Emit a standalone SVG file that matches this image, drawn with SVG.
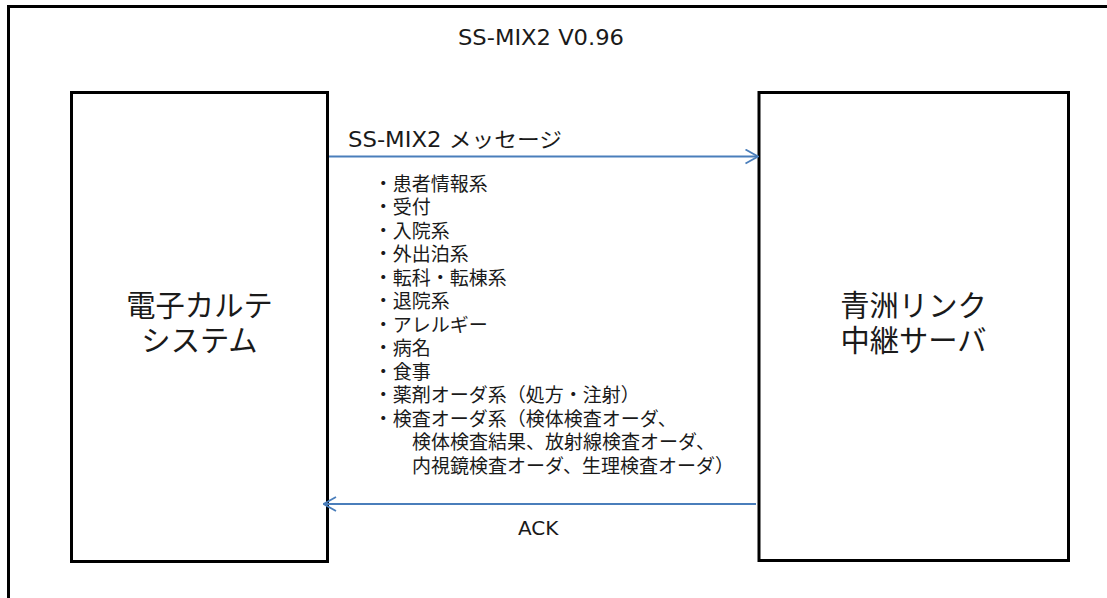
<svg xmlns="http://www.w3.org/2000/svg" width="1107" height="598" viewBox="0 0 1107 598">
  <style>
    .frame { fill: none; stroke: #000; stroke-width: 3; }
    .box { fill: #fff; stroke: #000; stroke-width: 3; }
    .conn { fill: none; stroke: #4A7EBB; stroke-width: 1.8; }
    .lat { font-family: "DejaVu Sans", "Noto Sans CJK JP", sans-serif; fill: #1a1a1a; }
    .big { font-family: "Noto Sans CJK JP", sans-serif; font-size: 29.3px; fill: #1a1a1a; text-anchor: middle; }
    .item { font-family: "Noto Sans CJK JP", sans-serif; font-size: 19px; fill: #1a1a1a; }
  </style>
  <defs>
    <marker id="open" viewBox="0 0 14 16" refX="13" refY="8" markerWidth="14" markerHeight="16" markerUnits="userSpaceOnUse" orient="auto">
      <path d="M0.5,1 L13,8 L0.5,15" fill="none" stroke="#4A7EBB" stroke-width="1.8"/>
    </marker>
  </defs>
  <rect width="1107" height="598" fill="#fff"/>

  <g id="frame">
    <path class="frame" d="M8.5,600 V6.5 H1110"/>
    <text class="lat" x="541" y="45" font-size="21.3" text-anchor="middle" textLength="166" lengthAdjust="spacingAndGlyphs">SS-MIX2 V0.96</text>
  </g>

  <g id="emr">
    <rect class="box" x="71.5" y="92.5" width="256" height="469"/>
    <text class="big"><tspan x="199.5" y="315.5">電子カルテ</tspan><tspan x="199.5" y="351">システム</tspan></text>
  </g>

  <g id="relay">
    <rect class="box" x="759" y="92.5" width="309.5" height="468"/>
    <text class="big"><tspan x="913.5" y="315.5">青洲リンク</tspan><tspan x="913.5" y="351">中継サーバ</tspan></text>
  </g>

  <g id="connectors">
    <line class="conn" x1="329" y1="156.5" x2="758" y2="156.5" marker-end="url(#open)"/>
    <text class="lat" x="348" y="147" font-size="21" textLength="214" lengthAdjust="spacingAndGlyphs">SS-MIX2 メッセージ</text>
    <line class="conn" x1="756" y1="504" x2="323.5" y2="504" marker-end="url(#open)"/>
    <text class="lat" x="518" y="535" font-size="20">ACK</text>
  </g>

  <g id="message-list">
    <text class="item">
      <tspan x="373.7" y="190.5">・患者情報系</tspan>
      <tspan x="373.7" y="214">・受付</tspan>
      <tspan x="373.7" y="237.5">・入院系</tspan>
      <tspan x="373.7" y="261">・外出泊系</tspan>
      <tspan x="373.7" y="284.5">・転科・転棟系</tspan>
      <tspan x="373.7" y="308">・退院系</tspan>
      <tspan x="373.7" y="331.5">・アレルギー</tspan>
      <tspan x="373.7" y="355">・病名</tspan>
      <tspan x="373.7" y="378.5">・食事</tspan>
      <tspan x="373.7" y="402">・薬剤オーダ系（処方・注射）</tspan>
      <tspan x="373.7" y="425.5">・検査オーダ系（検体検査オーダ、</tspan>
      <tspan x="412" y="449">検体検査結果、放射線検査オーダ、</tspan>
      <tspan x="412" y="472.5">内視鏡検査オーダ、生理検査オーダ）</tspan>
    </text>
  </g>
</svg>
